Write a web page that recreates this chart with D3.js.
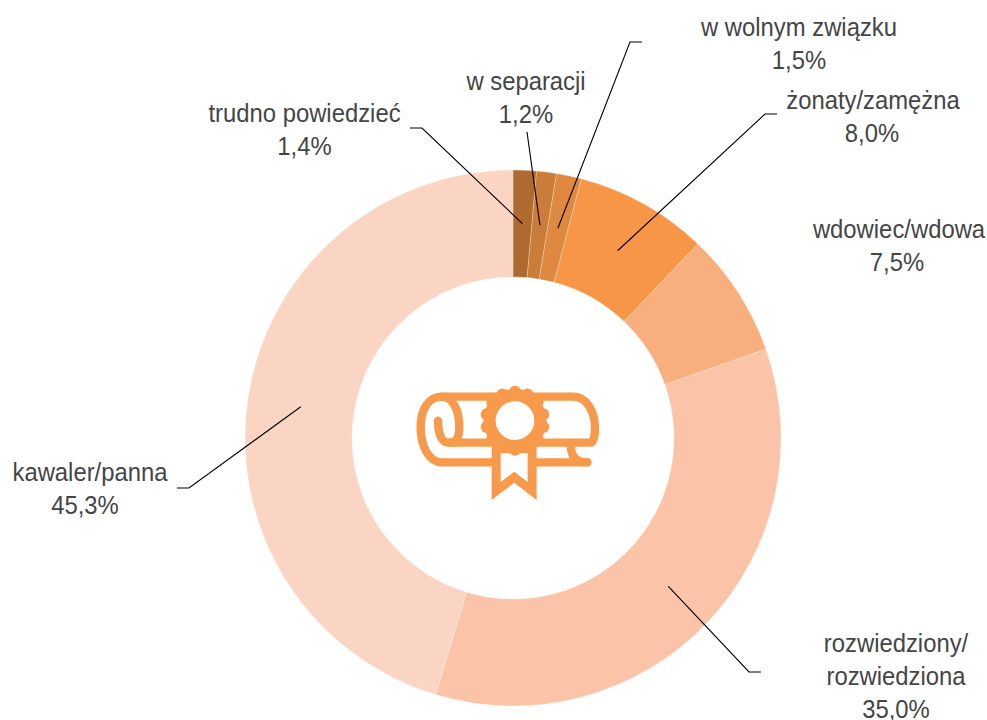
<!DOCTYPE html>
<html><head><meta charset="utf-8">
<script src="https://cdnjs.cloudflare.com/ajax/libs/d3/7.8.5/d3.min.js"></script>
<style>html,body{margin:0;padding:0;background:#fff}svg{display:block}text{font-family:"Liberation Sans",Arial,sans-serif;fill:#454545}</style>
</head><body><svg id="c" width="987" height="720"></svg>
<script>
const categories = ["trudno powiedzieć","w separacji","w wolnym związku","żonaty/zamężna","wdowiec/wdowa","rozwiedziony/\nrozwiedziona","kawaler/panna"];
const values = [1.4,1.2,1.5,8.0,7.5,35.0,45.3];
const valueLabels = ["1,4%","1,2%","1,5%","8,0%","7,5%","35,0%","45,3%"];
const colors = ["#ae6a2f","#ca7c38","#de8840","#f79646","#f9ae7d","#fbc3a7","#fad5c3"];
// layout of label blocks (text centre x, first baseline y, value-line x shift) and leader lines (elbow then end)
const labelPos = [[304.5,122,0],[526,90,0],[799,36,0],[873,109,-1],[899,238,-2],[896,652,0],[90,481,-5]];
const leaderPos = [[[422,128],[410,128]],[[527,132]],[[630,42],[642,42]],[[765,114],[777,114]],null,[[749,672],[761,672]],[[189,488],[177,488]]];

const svg = d3.select("#c");
const cx=513, cy=438, R=268, r0=161;
const g = svg.append("g").attr("transform",`translate(${cx},${cy})`);
const pie = d3.pie().sort(null).value(d=>d);
const arc = d3.arc().innerRadius(r0).outerRadius(R);
const arcs = pie(values);
g.selectAll("path").data(arcs).join("path").attr("d",arc)
 .attr("fill",(d,i)=>colors[i]).attr("stroke","#ffffff").attr("stroke-opacity",.35).attr("stroke-width",.75);

const line = d3.line();
arcs.forEach((d,i)=>{
  if(!leaderPos[i]) return;
  const c = arc.centroid(d);
  svg.append("path").attr("d",line([[c[0]+cx,c[1]+cy],...leaderPos[i]]))
    .attr("fill","none").attr("stroke","#000").attr("stroke-width",1.1);
});
const FS=26, SX=0.917;
categories.forEach((name,i)=>{
  const lines=[...name.split("\n"),valueLabels[i]];
  const [x,y,dv]=labelPos[i];
  const t=svg.append("g").attr("transform",`translate(${x},${y}) scale(${SX},1)`);
  lines.forEach((l,k)=>t.append("text").attr("x",k===lines.length-1?dv/SX:0).attr("y",k*33).attr("text-anchor","middle").attr("font-size",FS).text(l));
});

// diploma icon
const O="#f79a4b";
const ic=svg.append("g").attr("transform","translate(400,370) scale(0.3333)");
const sp=(d)=>ic.append("path").attr("d",d).attr("fill","none").attr("stroke",O).attr("stroke-width",25).attr("stroke-linecap","round").attr("stroke-linejoin","round");
sp("M275,277 L125,277 C85,277 62,225 62,170 C62,120 85,80 125,80 L520,80 C560,80 585,125 585,175 C585,195 582,210 575,218 L145,218 C125,218 114,190 114,152");
sp("M125,80 C160,80 178,125 178,170 C178,195 172,218 150,218");
sp("M410,277 L562,277");
sp("M512,222 C512,255 525,277 562,277");
ic.append("path").attr("d","M275,225 L275,390 L343,338 L410,390 L410,225 Z").attr("fill",O);
ic.append("path").attr("d","M302,250 L302,336 L343,305 L383,336 L383,250 Z").attr("fill","#fff");
const ros=d3.range(14).map(k=>k*2*Math.PI/14+Math.PI/14);
ic.selectAll("circle.s").data(ros).join("circle").attr("class","s")
  .attr("cx",a=>345+87*Math.cos(a)).attr("cy",a=>152+87*Math.sin(a)).attr("r",18).attr("fill",O);
ic.append("circle").attr("cx",345).attr("cy",152).attr("r",95).attr("fill",O);
ic.append("circle").attr("cx",345).attr("cy",152).attr("r",58).attr("fill","#fff");
</script></body></html>
